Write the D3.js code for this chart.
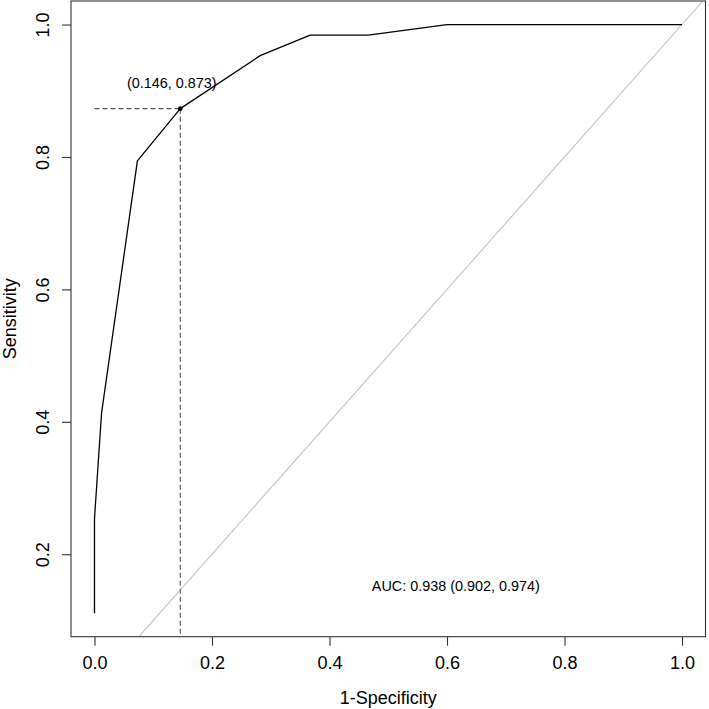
<!DOCTYPE html>
<html>
<head>
<meta charset="utf-8">
<script src="https://cdn.jsdelivr.net/npm/d3@7/dist/d3.min.js"></script>
<style>
  html, body { margin: 0; padding: 0; background: #fff; }
  svg { display: block; font-family: "Liberation Sans", Arial, Helvetica, sans-serif; }
</style>
</head>
<body>
<script>
// ---- data ----
const fpr = [0, 0, 0.012, 0.073, 0.146, 0.282, 0.367, 0.466, 0.6, 1];
const sensitivity = [0.111, 0.254, 0.413, 0.794, 0.873, 0.953, 0.984, 0.984, 1, 1];
const xTicks = [0, 0.2, 0.4, 0.6, 0.8, 1.0];
const yTicks = [0.2, 0.4, 0.6, 0.8, 1.0];
const threshold = [0.146, 0.873];
const thresholdLabel = "(0.146, 0.873)";
const aucLabel = "AUC: 0.938 (0.902, 0.974)";
const xTitle = "1-Specificity";
const yTitle = "Sensitivity";

(function () {
const W = 709, H = 709;
const pL = 71, pR = 705.5, pT = 1, pB = 636.7;

const yMin = d3.min(sensitivity), yMax = 1;
const yExt = (yMax - yMin) * 0.04;
const x = d3.scaleLinear().domain([-0.04, 1.04]).range([pL, pR]);
const y = d3.scaleLinear().domain([yMin - yExt, yMax + yExt]).range([pB, pT]);

const svg = d3.select("body").append("svg").attr("width", W).attr("height", H);

svg.append("defs").append("clipPath").attr("id", "clip")
  .append("rect").attr("x", pL).attr("y", pT).attr("width", pR - pL).attr("height", pB - pT);

const plot = svg.append("g").attr("clip-path", "url(#clip)");

// diagonal reference line
const d0 = yMin - yExt, d1 = yMax + yExt;
plot.append("line")
  .attr("x1", x(d0)).attr("y1", y(d0)).attr("x2", x(d1)).attr("y2", y(d1))
  .attr("stroke", "#c4c4c4").attr("stroke-width", 1.1);

// threshold dashed lines
plot.append("line")
  .attr("x1", x(0)).attr("y1", y(threshold[1])).attr("x2", x(threshold[0])).attr("y2", y(threshold[1]))
  .attr("stroke", "#555").attr("stroke-width", 1.1).attr("stroke-dasharray", "5,3");
plot.append("line")
  .attr("x1", x(threshold[0])).attr("y1", y(threshold[1])).attr("x2", x(threshold[0])).attr("y2", pB)
  .attr("stroke", "#555").attr("stroke-width", 1.1).attr("stroke-dasharray", "5,3");

// ROC curve
const pts = fpr.map((v, i) => [v, sensitivity[i]]);
plot.append("path")
  .attr("d", d3.line().x(d => x(d[0])).y(d => y(d[1]))(pts))
  .attr("fill", "none").attr("stroke", "#000").attr("stroke-width", 1.3)
  .attr("stroke-linejoin", "round");

// threshold point
svg.append("circle")
  .attr("cx", x(threshold[0])).attr("cy", y(threshold[1])).attr("r", 2.3).attr("fill", "#000");

// threshold label
svg.append("text")
  .attr("x", x(threshold[0]) - 8.5).attr("y", y(threshold[1]) - 21)
  .attr("text-anchor", "middle").attr("font-size", 14.4).attr("fill", "#000")
  .text(thresholdLabel);

// AUC label
svg.append("text")
  .attr("x", x(0.615)).attr("y", y(0.1452))
  .attr("text-anchor", "middle").attr("font-size", 14.4).attr("fill", "#000")
  .text(aucLabel);

// box
svg.append("rect")
  .attr("x", pL).attr("y", pT).attr("width", pR - pL).attr("height", pB - pT)
  .attr("fill", "none").attr("stroke", "#333").attr("stroke-width", 1.1);

// x axis
const xAxis = d3.axisBottom(x).tickValues(xTicks).tickFormat(d3.format(".1f"))
  .tickSize(9).tickPadding(8);
const gx = svg.append("g").attr("transform", `translate(0,${pB})`).call(xAxis);
gx.select(".domain").remove();
gx.selectAll(".tick line").attr("stroke", "#333").attr("stroke-width", 1.1);
gx.selectAll(".tick text").attr("font-size", 18).attr("fill", "#000")
  .attr("font-family", "Liberation Sans, Arial, sans-serif")
  .attr("dy", null).attr("y", 669.3 - pB).attr("dominant-baseline", "alphabetic");

// y axis
const yAxis = d3.axisLeft(y).tickValues(yTicks).tickFormat(d3.format(".1f"))
  .tickSize(9).tickPadding(8);
const gy = svg.append("g").attr("transform", `translate(${pL},0)`).call(yAxis);
gy.select(".domain").remove();
gy.selectAll(".tick line").attr("stroke", "#333").attr("stroke-width", 1.1);
gy.selectAll(".tick text").attr("font-size", 18).attr("fill", "#000")
  .attr("font-family", "Liberation Sans, Arial, sans-serif")
  .attr("x", null).attr("dy", null)
  .attr("text-anchor", "middle")
  .attr("transform", `translate(${49 - pL},0) rotate(-90)`)
  .attr("y", 0).attr("dominant-baseline", "alphabetic");

// axis titles
svg.append("text")
  .attr("x", (pL + pR) / 2).attr("y", 704)
  .attr("text-anchor", "middle").attr("font-size", 18).attr("fill", "#000")
  .text(xTitle);
svg.append("text")
  .attr("transform", `translate(15.7,${(pT + pB) / 2}) rotate(-90)`)
  .attr("text-anchor", "middle").attr("font-size", 18).attr("fill", "#000")
  .text(yTitle);
})();
</script>
</body>
</html>
